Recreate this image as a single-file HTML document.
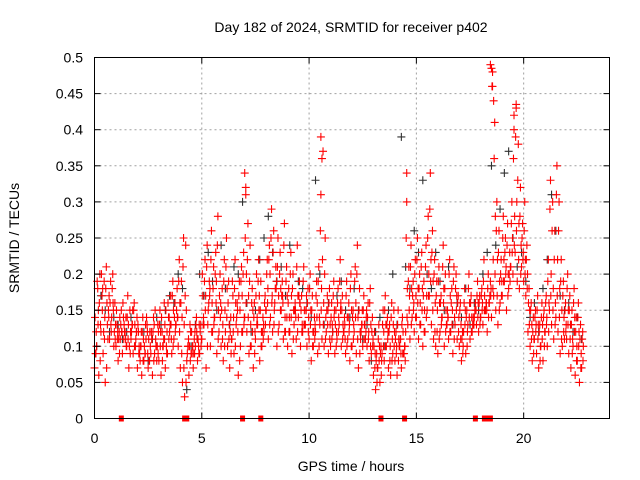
<!DOCTYPE html>
<html><head><meta charset="utf-8"><style>
html,body{margin:0;padding:0;background:#fff;}
svg{display:block;font-family:"Liberation Sans",sans-serif;}
</style></head><body>
<svg id="chart" width="640" height="480" viewBox="0 0 640 480">
<rect width="640" height="480" fill="#fff"/>
<g id="grid"></g>
<g id="marks"></g>
<rect x="94.5" y="57.5" width="515" height="361" fill="none" stroke="#000" stroke-width="1"/>
<g id="axes"></g>
<text x="351" y="32" text-anchor="middle" font-size="14">Day 182 of 2024, SRMTID for receiver p402</text>
<text x="351" y="471" text-anchor="middle" font-size="14">GPS time / hours</text>
<text x="19" y="238" text-anchor="middle" font-size="14" transform="rotate(-90 19 238)">SRMTID / TECUs</text>
</svg>
<script>
const xTicks=[0,5,10,15,20];
const yTicks=[0,0.05,0.1,0.15,0.2,0.25,0.3,0.35,0.4,0.45,0.5];
const yTickLabels=["0","0.05","0.1","0.15","0.2","0.25","0.3","0.35","0.4","0.45","0.5"];
const redA=[.09,.18,.20,.17,.19,.21,.15,.19,.20,.16,.13,.12,.15,.14,.11,.17,.15,.13,.16,.12,.12,.10,.14,.09,.13,.08,.12,.14,.11,.13,.15,.12,.16,.10,.14,.17,.19,.16,.18,.22,.19,.25,.24,.10,.13,.09,.11,.14,.10,.13,.17,.22,.24,.19,.26,.21,.23,.28,.20,.18,.22,.25,.19,.14,.17,.22,.16,.19,.21,.23,.31,.27,.24,.18,.16,.20,.22,.19,.14,.17,.22,.24,.29,.26,.21,.25,.23,.19,.27,.21,.18,.23,.20,.16,.24,.19,.17,.21,.15,.18,.20,.17,.14,.19,.21,.31,.37,.25,.17,.18,.16,.19,.15,.18,.22,.17,.14,.19,.16,.20,.15,.21,.24,.18,.13,.17,.12,.16,.18,.14,.12,.09,.13,.10,.15,.17,.14,.13,.16,.15,.12,.15,.11,.14,.10,.34,.21,.24,.19,.22,.25,.20,.23,.19,.24,.28,.34,.26,.22,.19,.21,.17,.24,.20,.15,.22,.18,.21,.20,.17,.16,.12,.18,.15,.20,.17,.14,.16,.19,.17,.18,.22,.16,.20,.19,.48,.41,.30,.26,.22,.28,.25,.27,.23,.30,.40,.43,.38,.32,.27,.30,.24,.18,.16,.14,.15,.17,.13,.16,.15,.17,.22,.33,.30,.26,.35,.30,.22,.19,.16,.20,.17,.15,.18,.14,.16,.13,.12];
const redB=[.07,.10,.06,.12,.09,.05,.13,.11,.14,.10,.10,.08,.11,.09,.12,.10,.07,.11,.09,.10,.07,.09,.06,.08,.11,.07,.10,.06,.09,.08,.08,.06,.10,.07,.09,.12,.09,.11,.13,.10,.07,.05,.03,.08,.06,.09,.07,.10,.08,.09,.11,.13,.07,.15,.10,.12,.14,.09,.12,.10,.08,.12,.10,.07,.11,.09,.13,.06,.10,.12,.14,.12,.09,.10,.07,.11,.13,.08,.10,.12,.15,.11,.14,.12,.16,.10,.13,.15,.11,.12,.10,.12,.09,.13,.11,.14,.10,.12,.13,.10,.11,.08,.10,.12,.09,.13,.11,.10,.12,.09,.10,.12,.09,.11,.13,.10,.12,.09,.11,.08,.10,.12,.09,.07,.11,.10,.13,.10,.08,.09,.06,.04,.07,.05,.09,.08,.10,.07,.06,.09,.08,.06,.10,.07,.09,.12,.13,.11,.14,.12,.14,.11,.13,.10,.12,.15,.17,.13,.11,.10,.09,.12,.14,.10,.13,.11,.12,.09,.13,.11,.10,.08,.12,.09,.13,.11,.12,.14,.13,.12,.14,.13,.15,.12,.16,.14,.17,.15,.13,.16,.17,.19,.15,.18,.21,.20,.23,.19,.18,.21,.19,.17,.12,.10,.08,.11,.09,.07,.10,.08,.12,.10,.15,.13,.11,.14,.12,.09,.10,.11,.11,.09,.07,.10,.06,.08,.05,.07];
const redC=[.12,.15,.13,.18,.14,.16,.17,.12,.15,.13,.12,.14,.12,.13,.10,.13,.12,.15,.13,.14,.10,.12,.11,.13,.09,.12,.11,.13,.10,.12,.12,.10,.13,.12,.14,.11,.15,.13,.14,.16,.14,.13,.15,.11,.12,.10,.12,.11,.13,.11,.14,.17,.13,.18,.16,.14,.19,.15,.16,.13,.15,.18,.13,.11,.14,.16,.12,.15,.17,.14,.20,.17,.13,.15,.12,.14,.17,.12,.13,.15,.18,.20,.17,.15,.19,.17,.18,.16,.14,.17,.14,.17,.15,.14,.17,.16,.13,.15,.17,.14,.15,.12,.13,.16,.14,.18,.16,.14,.15,.13,.13,.15,.12,.14,.16,.13,.11,.14,.13,.15,.13,.16,.14,.12,.15,.13,.15,.12,.13,.11,.09,.07,.10,.08,.12,.13,.12,.10,.11,.12,.10,.11,.09,.12,.08,.18,.17,.18,.16,.17,.18,.16,.18,.15,.17,.20,.22,.19,.16,.15,.16,.14,.18,.15,.14,.17,.15,.14,.17,.14,.13,.10,.15,.12,.16,.14,.13,.15,.16,.14,.16,.17,.15,.16,.18,.22,.28,.22,.19,.19,.22,.21,.20,.21,.25,.28,.30,.27,.24,.23,.22,.20,.15,.13,.11,.13,.13,.10,.13,.12,.14,.16,.20,.18,.16,.22,.18,.15,.14,.13,.15,.13,.11,.14,.10,.12,.09,.10];
const redD=[.14,.19,.16,.20,.12,.18,.11,.16,.18,.12,.15,.11,.13,.16,.12,.14,.10,.12,.15,.11,.13,.08,.12,.10,.14,.11,.09,.12,.15,.10,.13,.14,.11,.15,.16,.13,.17,.14,.15,.19,.16,.21,.17,.09,.10,.12,.09,.13,.11,.12,.20,.19,.21,.16,.22,.18,.20,.24,.17,.15,.19,.21,.16,.12,.19,.18,.14,.17,.19,.20,.25,.22,.19,.16,.14,.17,.19,.15,.12,.16,.20,.22,.25,.23,.18,.21,.20,.17,.24,.19,.16,.20,.18,.15,.21,.17,.15,.19,.13,.16,.18,.15,.12,.17,.19,.26,.22,.20,.15,.16,.14,.17,.13,.16,.19,.15,.12,.17,.14,.18,.14,.19,.20,.15,.12,.15,.11,.14,.16,.12,.10,.08,.11,.09,.13,.15,.13,.12,.14,.13,.11,.13,.10,.13,.09,.25,.19,.21,.17,.20,.22,.18,.21,.17,.21,.25,.29,.23,.20,.17,.19,.16,.21,.18,.13,.20,.16,.19,.18,.16,.15,.11,.16,.14,.18,.16,.13,.15,.17,.16,.17,.19,.15,.18,.17,.46,.36,.26,.23,.20,.25,.23,.24,.20,.27,.36,.39,.33,.28,.25,.26,.22,.16,.15,.12,.14,.15,.12,.14,.14,.16,.19,.29,.26,.22,.31,.26,.19,.17,.15,.18,.15,.13,.16,.12,.14,.11,.11];
const redE=[.09,.13,.08,.15,.11,.07,.14,.13,.16,.11,.11,.09,.12,.11,.14,.11,.09,.13,.10,.12,.09,.10,.08,.09,.12,.08,.11,.08,.10,.09,.10,.08,.11,.09,.11,.13,.10,.12,.14,.12,.09,.07,.05,.10,.08,.10,.09,.12,.09,.10,.13,.15,.10,.17,.12,.13,.16,.11,.14,.11,.10,.14,.11,.09,.12,.10,.15,.08,.12,.13,.16,.14,.10,.12,.09,.13,.15,.10,.11,.13,.16,.13,.16,.13,.18,.12,.15,.17,.12,.14,.12,.14,.11,.15,.12,.16,.12,.13,.15,.12,.13,.10,.11,.14,.10,.15,.13,.11,.13,.11,.11,.14,.10,.12,.15,.11,.13,.10,.12,.10,.11,.14,.11,.09,.13,.11,.14,.11,.10,.10,.07,.05,.08,.06,.10,.10,.11,.08,.08,.10,.09,.08,.11,.09,.10,.14,.15,.13,.15,.14,.16,.13,.15,.12,.14,.17,.19,.15,.12,.12,.11,.13,.16,.12,.14,.12,.13,.11,.15,.12,.11,.09,.13,.10,.14,.12,.13,.15,.14,.13,.15,.15,.16,.14,.17,.18,.20,.17,.15,.17,.19,.20,.17,.19,.23,.24,.26,.22,.20,.22,.20,.18,.13,.11,.09,.12,.11,.08,.11,.10,.13,.12,.17,.15,.13,.17,.14,.11,.12,.12,.13,.11,.09,.12,.08,.10,.07,.08];
const blackS=[.10,.17,.15,.12,.14,.13,.11,.12,.14,.10,.09,.12,.08,.11,.14,.13,.15,.17,.16,.20,.18,.04,.10,.13,.20,.17,.23,.19,.15,.24,.18,.13,.21,.20,.30,.16,.12,.15,.22,.25,.28,.23,.19,.21,.17,.24,.15,.19,.18,.16,.14,.33,.20,.13,.16,.12,.17,.19,.15,.14,.18,.15,.11,.13,.08,.12,.14,.10,.15,.20,.13,.39,.21,.18,.26,.23,.33,.20,.18,.23,.19,.15,.21,.13,.16,.14,.18,.13,.16,.15,.20,.23,.35,.24,.29,.34,.37,.25,.21,.23,.19,.14,.16,.12,.18,.22,.31,.26,.17,.15,.16,.12,.14,.11];
const spikeTimes=[18.45,18.5,18.55,18.6,19.55,19.65,10.55,10.6,14.55,7.0,7.05];
const spikeValues=[0.49,0.485,0.46,0.44,0.42,0.435,0.39,0.36,0.30,0.34,0.32];
const zeroTimes=[1.25,4.2,4.3,6.9,7.75,13.35,14.45,17.75,18.17,18.31,18.45];
const redStep=0.1, blackStep=0.2;

const X=t=>94.5+t*(515/24);
const Y=v=>418.5-v*(361/0.5);
const NS="http://www.w3.org/2000/svg";
const grid=document.getElementById('grid'), axes=document.getElementById('axes'), marks=document.getElementById('marks');
function mk(tag,attrs,parent){const e=document.createElementNS(NS,tag);for(const k in attrs)e.setAttribute(k,attrs[k]);parent.appendChild(e);return e;}
xTicks.forEach(t=>{
  const gx=X(t);
  if(t>0){const g=mk('line',{x1:gx,y1:57.5,x2:gx,y2:418.5,stroke:'#a0a0a0','stroke-dasharray':'2,3'},grid);
  
  }
  mk('line',{x1:gx,y1:418.5,x2:gx,y2:412.5,stroke:'#000'},axes);
  mk('line',{x1:gx,y1:57.5,x2:gx,y2:63.5,stroke:'#000'},axes);
  const l=mk('text',{x:gx,y:443,'text-anchor':'middle','font-size':'14'},axes);
  l.textContent=String(t);
  
  
});
yTicks.forEach((v,i)=>{
  const gy=Y(v);
  if(v>0&&v<0.5){const g=mk('line',{x1:94.5,y1:gy,x2:609.5,y2:gy,stroke:'#a0a0a0','stroke-dasharray':'2,3'},grid);
  
  }
  mk('line',{x1:94.5,y1:gy,x2:100.5,y2:gy,stroke:'#000'},axes);
  mk('line',{x1:609.5,y1:gy,x2:603.5,y2:gy,stroke:'#000'},axes);
  const l=mk('text',{x:83,y:gy+5,'text-anchor':'end','font-size':'14'},axes);
  l.textContent=yTickLabels[i];
  
  
});
function plus(t,v,color,name){
  const x=X(t),y=Y(v);
  const p=mk('path',{d:`M${x-4},${y}H${x+4}M${x},${y-4}V${y+4}`,stroke:color,'stroke-width':'1.1',fill:'none'},marks);
  
  
}
blackS.forEach((v,i)=>plus(0.1+i*blackStep,v,'#303030','black-point'));
redA.forEach((v,i)=>plus(0.05+i*redStep,v,'#ff0000','red-point'));
redB.forEach((v,i)=>plus(i*redStep,v,'#ff0000','red-point'));
redC.forEach((v,i)=>plus(0.08+i*redStep,v,'#ff0000','red-point'));
redD.forEach((v,i)=>plus(0.025+i*redStep,v,'#ff0000','red-point'));
redE.forEach((v,i)=>plus(0.065+i*redStep,v,'#ff0000','red-point'));
spikeTimes.forEach((t,i)=>plus(t,spikeValues[i],'#ff0000','red-spike-point'));
zeroTimes.forEach(t=>{
  const r=mk('rect',{x:X(t)-2.5,y:Y(0)-3,width:5,height:6,fill:'#ff0000'},marks);
  
  
});
</script>
</body></html>
